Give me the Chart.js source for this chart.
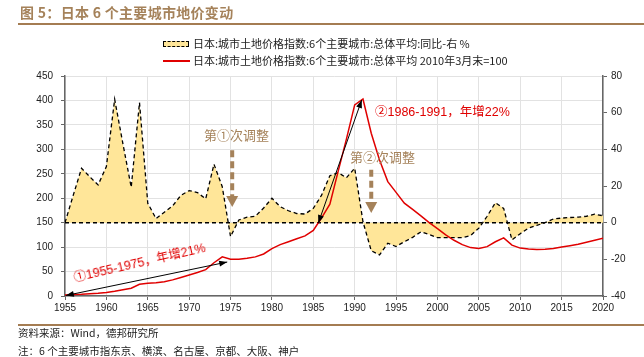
<!DOCTYPE html>
<html><head><meta charset="utf-8">
<script src="https://cdn.jsdelivr.net/npm/chart.js@4/dist/chart.umd.min.js"></script>
<style>
body{margin:0;width:644px;height:357px;overflow:hidden;background:#fff;font-family:"Noto Sans CJK SC",sans-serif;}
#wrap{position:relative;width:644px;height:357px;}
canvas{position:absolute;left:0;top:0;}
.t{position:absolute;white-space:nowrap;line-height:1;}
</style></head><body>
<div id="wrap">
<canvas id="c" width="644" height="357"></canvas>
<div class="t" style="left:20px;top:5px;font-size:14px;font-weight:bold;color:#a5825a;letter-spacing:0.3px;">图 5：日本 6 个主要城市地价变动</div>
<div style="position:absolute;left:18px;top:23px;width:626px;height:2px;background:#a47c52"></div>
<div style="position:absolute;left:163px;top:41px;width:24px;height:4px;background:#FFE699;border:1.5px dashed #000"></div>
<div class="t" style="left:193px;top:38px;font-size:11px;color:#222;">日本:城市土地价格指数:6个主要城市:总体平均:同比-右 %</div>
<div style="position:absolute;left:163px;top:60px;width:27px;height:1.5px;background:#e00000"></div>
<div class="t" style="left:193px;top:55px;font-size:11px;color:#222;">日本:城市土地价格指数:6个主要城市:总体平均 2010年3月末=100</div>

<div class="t" style="left:204px;top:128px;font-size:13px;color:#a5825a;">第①次调整</div>
<div class="t" style="left:350px;top:150px;font-size:13px;color:#a5825a;">第②次调整</div>
<div class="t" style="left:375px;top:106px;font-size:12.5px;color:#e00000;font-family:'Liberation Sans','Noto Sans CJK SC';">②1986-1991，年增22%</div>
<div class="t" style="left:74px;top:272px;font-size:12.5px;color:#e00000;font-family:'Liberation Sans','Noto Sans CJK SC';transform-origin:0 50%;transform:rotate(-13deg);">①1955-1975，年增21%</div>

<div style="position:absolute;left:18px;top:324px;width:626px;height:2px;background:#a47c52"></div>
<div class="t" style="left:18px;top:328px;font-size:10.5px;color:#222;">资料来源：Wind，德邦研究所</div>
<div class="t" style="left:18px;top:346px;font-size:10.5px;color:#222;">注：6 个主要城市指东京、横滨、名古屋、京都、大阪、神户</div>
</div>
<script>
const years = [1955,1956,1957,1958,1959,1960,1961,1962,1963,1964,1965,1966,1967,1968,1969,1970,1971,1972,1973,1974,1975,1976,1977,1978,1979,1980,1981,1982,1983,1984,1985,1986,1987,1988,1989,1990,1991,1992,1993,1994,1995,1996,1997,1998,1999,2000,2001,2002,2003,2004,2005,2006,2007,2008,2009,2010,2011,2012,2013,2014,2015,2016,2017,2018,2019,2020];
const priceIndex = [2,3,3.5,4.5,5.5,7,9.5,13,16,24,26,27,29,33,38,43,48,54,68,80,75,75,77,80,86,97,105,111,117,123,134,160,188,255,321,391,403,333,278,234,212,190,177,164,150,138,125,114,105,99,97,101,111,119,104,98,96,95,95.5,97,100,103,106,110,114,118];
const yoyChange = [0,15,29.7,25,20.6,30.6,67.3,43,19.3,65.5,10.6,2.2,5.7,9.1,14.9,17.5,16.4,13,31.9,19.6,-7.6,1.5,3,3.5,8,13.3,8.7,6.5,5,4.7,7.8,15,25.6,27.3,24.5,29.7,0.5,-15.3,-17.6,-11.2,-13,-10.4,-8,-5,-6.5,-8.2,-8.2,-8.2,-8.2,-7,-3,3.5,10.9,7.8,-9.4,-6,-3,-1.5,0,2,2.5,2.8,3,3.5,4.6,3.8];
const leftTicks = {min:0,max:450,step:50};
const rightTicks = {min:-40,max:80,step:20};
const xTicks = {min:1955,max:2020,step:5};

// annotation anchors in data coordinates
const arrowsBlack = [
  {from:[1955.1,1],to:[1974.6,69.5]},
  {from:[1985.6,149],to:[1990.85,401]}
];
const arrowsBrown = [
  {x:1975.2,y0:298,y1:182},
  {x:1992,y0:258,y1:170}
];

const brown = '#a5825a';
function head(ctx,x1,y1,x2,y2,len,w){
  const a=Math.atan2(y2-y1,x2-x1);
  ctx.beginPath();
  ctx.moveTo(x2,y2);
  ctx.lineTo(x2-len*Math.cos(a)+w*Math.sin(a),y2-len*Math.sin(a)-w*Math.cos(a));
  ctx.lineTo(x2-len*Math.cos(a)-w*Math.sin(a),y2-len*Math.sin(a)+w*Math.cos(a));
  ctx.closePath();ctx.fill();
}
const annot = {
  id:'annot',
  afterDatasetDraw(chart,args){
    if(args.index!==1) return;
    const ctx=chart.ctx, ca=chart.chartArea, y1=chart.scales.y1;
    const y=y1.getPixelForValue(0);
    ctx.save();ctx.strokeStyle='#000';ctx.lineWidth=1.5;ctx.setLineDash([4,3]);
    ctx.beginPath();ctx.moveTo(ca.left,y);ctx.lineTo(ca.right,y);ctx.stroke();ctx.restore();
  },
  afterDatasetsDraw(chart){
    const ctx=chart.ctx, xs=chart.scales.x, ys=chart.scales.y;
    ctx.save();
    ctx.strokeStyle='#000';ctx.fillStyle='#000';ctx.lineWidth=1;
    arrowsBlack.forEach(a=>{
      const x1=xs.getPixelForValue(a.from[0]),y1=ys.getPixelForValue(a.from[1]);
      const x2=xs.getPixelForValue(a.to[0]),y2=ys.getPixelForValue(a.to[1]);
      ctx.beginPath();ctx.moveTo(x1,y1);ctx.lineTo(x2,y2);ctx.stroke();
      head(ctx,x1,y1,x2,y2,8,3);head(ctx,x2,y2,x1,y1,8,3);
    });
    ctx.strokeStyle=brown;ctx.fillStyle=brown;ctx.lineWidth=4;
    arrowsBrown.forEach(a=>{
      const x=xs.getPixelForValue(a.x),yA=ys.getPixelForValue(a.y0),yB=ys.getPixelForValue(a.y1);
      ctx.setLineDash([7,4]);
      ctx.beginPath();ctx.moveTo(x,yA);ctx.lineTo(x,yB-10);ctx.stroke();
      ctx.setLineDash([]);
      head(ctx,x,yA,x,yB,11,6);
    });
    ctx.restore();
  }
};

new Chart(document.getElementById('c'),{
  type:'line',
  data:{datasets:[
    {label:'日本:城市土地价格指数:6个主要城市:总体平均 2010年3月末=100',
     data:years.map((y,i)=>({x:y,y:priceIndex[i]})),yAxisID:'y',
     borderColor:'#e00000',borderWidth:1.5,pointRadius:0,fill:false,tension:0},
    {label:'日本:城市土地价格指数:6个主要城市:总体平均:同比-右 %',
     data:years.map((y,i)=>({x:y,y:yoyChange[i]})),yAxisID:'y1',
     borderColor:'#000',borderWidth:1.3,borderDash:[4,3],backgroundColor:'#FFE699',
     pointRadius:0,fill:'origin',tension:0}
  ]},
  options:{
    responsive:false,animation:false,
    layout:{padding:{top:76,bottom:41,left:0,right:0}},
    plugins:{legend:{display:false},tooltip:{enabled:false}},
    scales:{
      x:{type:'linear',min:xTicks.min,max:xTicks.max,
        afterFit:s=>{s.height=20;},
        ticks:{stepSize:xTicks.step,autoSkip:false,maxRotation:0,color:'#222',padding:2,
          font:{family:'Liberation Sans',size:10},callback:v=>String(v)},
        grid:{color:'#e2e2e2',tickLength:4,tickColor:'#666'},
        border:{color:'#666',width:1.5}},
      y:{position:'left',min:leftTicks.min,max:leftTicks.max,
        afterFit:s=>{s.width=65;},
        ticks:{stepSize:leftTicks.step,color:'#222',padding:8,font:{family:'Liberation Sans',size:10}},
        grid:{color:'#e2e2e2',tickLength:4,tickColor:'#666'},
        border:{color:'#666',width:1.5}},
      y1:{position:'right',min:rightTicks.min,max:rightTicks.max,
        afterFit:s=>{s.width=41;},
        ticks:{stepSize:rightTicks.step,color:'#222',padding:4,font:{family:'Liberation Sans',size:10}},
        grid:{drawOnChartArea:false,tickLength:4,tickColor:'#666'},
        border:{color:'#666',width:1.5}}
    }
  },
  plugins:[annot]
});
</script>
</body></html>
